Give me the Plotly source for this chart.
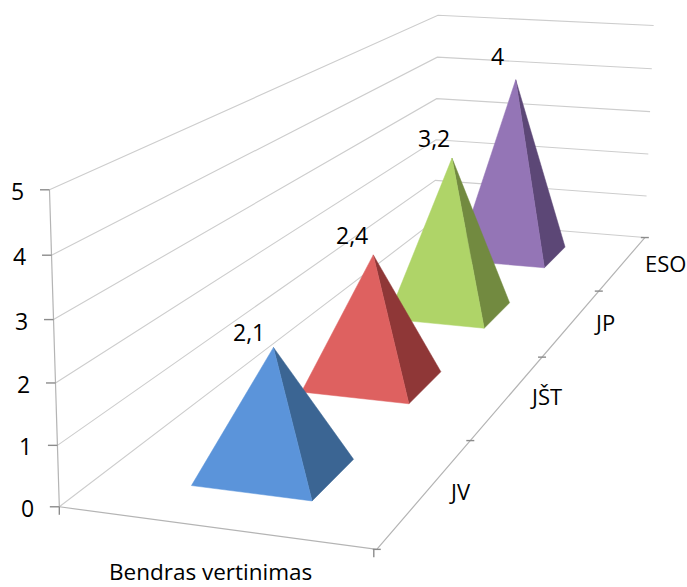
import numpy as np
import plotly.graph_objects as go

# Data
categories = ["JV", "JŠT", "JP", "ESO"]
values = [2.1, 2.4, 3.2, 4]
value_labels = ["2,1", "2,4", "3,2", "4"]
group_label = "Bendras vertinimas"
z_ticks = [0, 1, 2, 3, 4, 5]

# Colours: lit front face and shaded side face of each pyramid
front_colors = ["#5B94DA", "#DE6160", "#AFD468", "#9475B6"]
side_colors = ["#3B6593", "#8F3737", "#728A40", "#5C4776"]
GRID = "#CDCDCD"
AXIS = "#B4B4B4"
TICK = "#8C8C8C"
FONT = "Open Sans"

# 3x4 perspective camera mapping (group, series, value) to canvas pixels
CAMERA = np.array([
    [298.1873, 156.4749, -2.347583, 59.32888],
    [14.48976, -39.74981, -64.85615, 506.7757],
    [-0.05115423, 0.1440482, -0.007692995, 1.0],
])
BASE_HALF_X = 0.1974
BASE_HALF_Y = 0.1981
# Pixel nudges of the value labels from their apex
label_offsets = [(-24, -15), (-21, -20), (-18, -20), (-18, -24)]


def project(x, y, z):
    q = CAMERA @ np.array([x, y, z, 1.0])
    return q[0] / q[2], q[1] / q[2]


def line_trace(segments, color, width):
    xs, ys = [], []
    for seg in segments:
        for p in seg:
            px, py = project(*p)
            xs.append(px)
            ys.append(py)
        xs.append(None)
        ys.append(None)
    return go.Scatter(x=xs, y=ys, mode="lines", line=dict(color=color, width=width),
                      hoverinfo="skip", showlegend=False)


def tick_trace(segments, color=TICK, width=1.4):
    xs, ys = [], []
    for (ax, ay), (bx, by) in segments:
        xs += [ax, bx, None]
        ys += [ay, by, None]
    return go.Scatter(x=xs, y=ys, mode="lines", line=dict(color=color, width=width),
                      hoverinfo="skip", showlegend=False)


n = len(categories)
fig = go.Figure()

# Value gridlines on the left and back walls
fig.add_trace(line_trace([[(0, 0, k), (0, n, k), (1, n, k)] for k in z_ticks], GRID, 1.1))
# Axis lines
fig.add_trace(line_trace([[(0, 0, 0), (0, 0, max(z_ticks))], [(0, 0, 0), (1, 0, 0), (1, n, 0)]], AXIS, 1.2))

# Tick marks stay horizontal or vertical on the canvas
ticks = []
for k in z_ticks:
    px, py = project(0, 0, k)
    ticks.append(((px - 9.5, py), (px, py)))
for j in range(n + 1):
    px, py = project(1, j, 0)
    ticks.append(((px - 4, py), (px + 4, py)))
for gx, dx in [(0, 0), (1, -3)]:
    px, py = project(gx, 0, 0)
    ticks.append(((px + dx, py), (px + dx, py + 8)))
fig.add_trace(tick_trace(ticks))

# Pyramids, back to front
for i in reversed(range(n)):
    cy = i + 0.5
    apex = (0.5, cy, values[i])
    fl = (0.5 - BASE_HALF_X, cy - BASE_HALF_Y, 0)
    fr = (0.5 + BASE_HALF_X, cy - BASE_HALF_Y, 0)
    br = (0.5 + BASE_HALF_X, cy + BASE_HALF_Y, 0)
    for face, color in [((fr, br, apex), side_colors[i]), ((fl, fr, apex), front_colors[i])]:
        xs, ys = zip(*[project(*p) for p in face + (face[0],)])
        fig.add_trace(go.Scatter(x=xs, y=ys, mode="lines", fill="toself", fillcolor=color,
                                 line=dict(color=color, width=0.5),
                                 hovertemplate=f"{categories[i]}: {value_labels[i]}<extra></extra>",
                                 showlegend=False))

annotations = []


def label(text, x, y, size, dx=0, dy=0, anchor="center"):
    annotations.append(dict(text=text, x=x, y=y, xref="x", yref="y", showarrow=False,
                            xshift=dx, yshift=-dy, xanchor=anchor, yanchor="middle",
                            font=dict(family=FONT, size=size, color="#000000")))


for k in z_ticks:
    px, py = project(0, 0, k)
    label(str(k), px, py, 23, dx=-32, dy=1)
for i, name in enumerate(categories):
    px, py = project(1, i + 0.5, 0)
    label(name, px, py, 22, dx=20, dy=0, anchor="left")
for i, text in enumerate(value_labels):
    px, py = project(0.5, i + 0.5, values[i])
    label(text, px, py, 23, dx=label_offsets[i][0], dy=label_offsets[i][1])
px, py = project(0.5, 0, 0)
label(group_label, px, py, 22.5, dx=-3, dy=43.5)

fig.update_layout(
    width=687, height=587, autosize=False,
    margin=dict(l=0, r=0, t=0, b=0),
    paper_bgcolor="white", plot_bgcolor="white",
    xaxis=dict(range=[0, 687], visible=False, fixedrange=True),
    yaxis=dict(range=[587, 0], visible=False, fixedrange=True),
    annotations=annotations,
    showlegend=False,
)

fig.write_html("out.html", config=dict(displayModeBar=False))
